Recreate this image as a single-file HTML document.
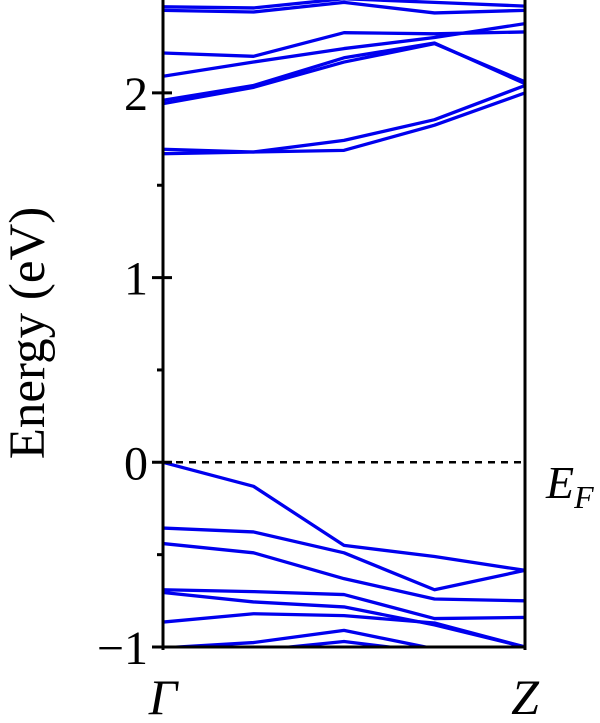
<!DOCTYPE html>
<html><head><meta charset="utf-8"><style>
body{margin:0;background:#fff}
svg text{font-family:"Liberation Serif",serif;fill:#000}
</style></head><body>
<svg width="600" height="718" viewBox="0 0 600 718" id="chart">
</svg>
<script>
const kLabels=["Γ","Z"];
const kPoints=[0,0.25,0.5,0.75,1];
const yTicks=[-1,0,1,2];
const yMinor=[-0.5,0.5,1.5];
const valence=[
[0,-0.13,-0.45,-0.51,-0.585],
[-0.356,-0.377,-0.49,-0.69,-0.585],
[-0.44,-0.49,-0.63,-0.74,-0.75],
[-0.69,-0.70,-0.716,-0.846,-0.84],
[-0.705,-0.756,-0.783,-0.88,-1.0],
[-0.865,-0.82,-0.83,-0.87,-1.0],
[-1.005,-0.976,-0.91,-1.01,-1.05],
[-1.04,-1.02,-0.97,-1.03,-1.06]
];
const conduction=[
[1.671,1.68,1.689,1.825,2.0],
[1.695,1.68,1.743,1.855,2.04],
[1.942,2.03,2.167,2.267,2.06],
[1.96,2.04,2.19,2.27,2.05],
[2.09,2.167,2.24,2.30,2.375],
[2.216,2.198,2.326,2.32,2.33],
[2.447,2.438,2.49,2.433,2.447],
[2.466,2.46,2.51,2.49,2.47]
];
const NS="http://www.w3.org/2000/svg";
const svg=document.getElementById('chart');
const X0=163,X1=525,Y0=647,YT=-1,YB=2.5;
const xs=k=>X0+k*(X1-X0);
const ys=e=>Y0-(e-YT)*184.7;
function mk(t,a){const e=document.createElementNS(NS,t);for(const k in a)e.setAttribute(k,a[k]);return e;}
const clip=mk('clipPath',{id:'pc'});clip.appendChild(mk('rect',{x:X0,y:0,width:X1-X0,height:Y0}));svg.appendChild(clip);
const g=mk('g',{'clip-path':'url(#pc)'});


svg.appendChild(g);
valence.concat(conduction).forEach((b,i)=>{
  const p=mk('polyline',{points:b.map((v,j)=>xs(kPoints[j])+','+ys(v)).join(' '),fill:'none',stroke:'#0000ee','stroke-width':3.3,'stroke-linejoin':'round'});
  
  
  g.appendChild(p);
});
const ef=mk('line',{x1:X0,x2:X1,y1:ys(0),y2:ys(0),stroke:'#000','stroke-width':2.5,'stroke-dasharray':'7,6'});


svg.appendChild(ef);
const ax=mk('path',{d:`M${X0},0V${Y0+3}M${X1},0V${Y0+3}M${X0-1.5},${Y0}H${X1+1.5}`,stroke:'#000','stroke-width':3,fill:'none'});


svg.appendChild(ax);
yTicks.forEach(v=>{
  const t=mk('line',{x1:X0-11,x2:X0+9,y1:ys(v),y2:ys(v),stroke:'#000','stroke-width':3});
  
  
  svg.appendChild(t);
  const l=mk('text',{x:148,y:ys(v)+17,'font-size':48,'text-anchor':'end'});
  l.textContent=v<0?'\u2212'+Math.abs(v):String(v);
  
  
  svg.appendChild(l);
});
yMinor.forEach(v=>{
  const t=mk('line',{x1:X0-6,x2:X0,y1:ys(v),y2:ys(v),stroke:'#000','stroke-width':3});
  
  
  svg.appendChild(t);
});
kLabels.forEach((s,i)=>{
  const l=mk('text',{x:xs(i),y:714,'font-size':50,'font-style':'italic','text-anchor':'middle'});
  l.textContent=s;
  
  
  svg.appendChild(l);
});
</script>
<svg width="600" height="718" style="position:absolute;left:0;top:0">
<text x="44" y="333" font-size="51" text-anchor="middle" transform="rotate(-90 44 333)" style="font-family:'Liberation Serif',serif">Energy (eV)</text>
<text x="546" y="498" font-size="46" font-style="italic" style="font-family:'Liberation Serif',serif">E<tspan font-size="32" dy="10">F</tspan></text>
</svg>
</body></html>
